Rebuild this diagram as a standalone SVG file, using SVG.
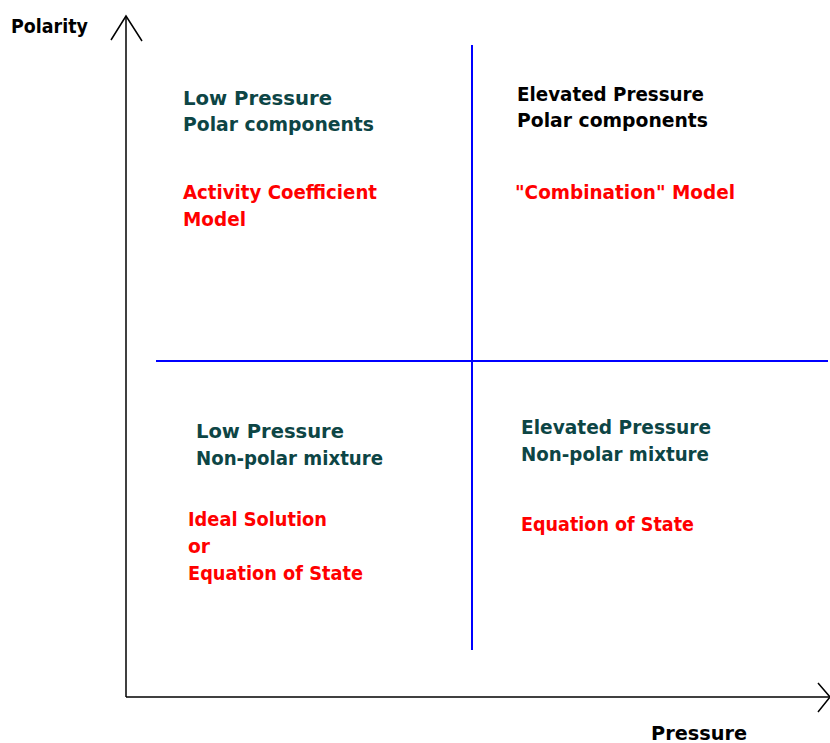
<svg xmlns="http://www.w3.org/2000/svg" width="830" height="743" viewBox="0 0 830 743">
<style>
text{font-family:"DejaVu Sans","Liberation Sans",sans-serif;font-weight:bold;font-size:19px}
.t{fill:#0d4545}.r{fill:#ff0000}.k{fill:#000}
.ax{stroke:#000;stroke-width:1.5;fill:none}
.bl{stroke:#0000ff;stroke-width:2;fill:none}
</style>
<rect width="830" height="743" fill="#fff"/>
<g id="connectors">
<path class="ax" d="M126,697 V17"/>
<path class="ax" d="M111,40 L126,16 L142,41"/>
<path class="ax" d="M126,697 H829"/>
<path class="ax" d="M818,683 L830,697 L818,712"/>
<path class="bl" d="M472,45 V650"/>
<path class="bl" d="M156,361 H828"/>
</g>
<g id="axis-y"><text class="k" x="11" y="33" textLength="77" lengthAdjust="spacingAndGlyphs">Polarity</text></g>
<g id="axis-x"><text class="k" x="651" y="740" textLength="96" lengthAdjust="spacingAndGlyphs">Pressure</text></g>
<g id="q-top-left">
<text class="t" x="183" y="105" textLength="149" lengthAdjust="spacingAndGlyphs">Low Pressure</text>
<text class="t" x="183" y="131" textLength="191" lengthAdjust="spacingAndGlyphs">Polar components</text>
<text class="r" x="183" y="199" textLength="194" lengthAdjust="spacingAndGlyphs">Activity Coefficient</text>
<text class="r" x="183" y="226" textLength="63" lengthAdjust="spacingAndGlyphs">Model</text>
</g>
<g id="q-top-right">
<text class="k" x="517" y="101" textLength="187" lengthAdjust="spacingAndGlyphs">Elevated Pressure</text>
<text class="k" x="517" y="127" textLength="191" lengthAdjust="spacingAndGlyphs">Polar components</text>
<text class="r" x="515" y="199" textLength="220" lengthAdjust="spacingAndGlyphs">"Combination" Model</text>
</g>
<g id="q-bottom-left">
<text class="t" x="196" y="438" textLength="148" lengthAdjust="spacingAndGlyphs">Low Pressure</text>
<text class="t" x="196" y="465" textLength="187" lengthAdjust="spacingAndGlyphs">Non-polar mixture</text>
<text class="r" x="188" y="526" textLength="139" lengthAdjust="spacingAndGlyphs">Ideal Solution</text>
<text class="r" x="188" y="553" textLength="22" lengthAdjust="spacingAndGlyphs">or</text>
<text class="r" x="188" y="580" textLength="175" lengthAdjust="spacingAndGlyphs">Equation of State</text>
</g>
<g id="q-bottom-right">
<text class="t" x="521" y="434" textLength="190" lengthAdjust="spacingAndGlyphs">Elevated Pressure</text>
<text class="t" x="521" y="461" textLength="188" lengthAdjust="spacingAndGlyphs">Non-polar mixture</text>
<text class="r" x="521" y="531" textLength="173" lengthAdjust="spacingAndGlyphs">Equation of State</text>
</g>
</svg>
